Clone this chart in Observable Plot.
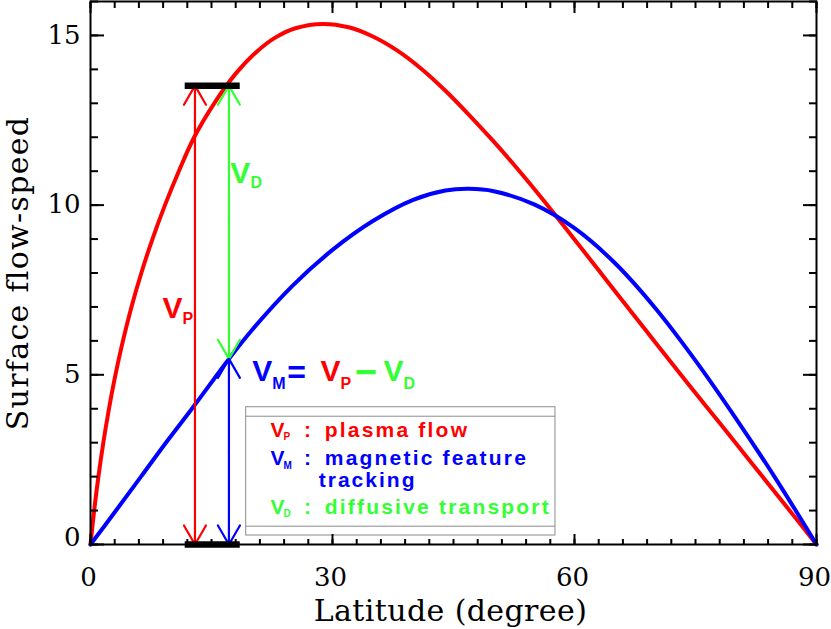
<!DOCTYPE html>
<html>
<head>
<meta charset="utf-8">
<script src="https://cdn.jsdelivr.net/npm/d3@7"></script>
<script src="https://cdn.jsdelivr.net/npm/@observablehq/plot@0.6"></script>
<style>
  body { margin: 0; background: #fff; }
  #chart svg { display: block; }
</style>
</head>
<body>
<div id="chart"></div>
<script>
// ---- data ----
// V_P : plasma flow (red)
const latP = [0, 0.455, 0.98, 1.59, 2.29, 3.09, 4.02, 5.08, 6.3, 7.68, 9.23, 10.95, 12.85, 15.5, 18, 20.5, 23, 25.5, 28.8, 32, 35, 38, 41, 44, 47, 50, 53, 56, 60, 63, 66, 70, 74, 78, 82, 86, 90];
const vP   = [0, 1, 2, 3, 4, 5, 6, 7, 8, 9, 10, 11, 12, 13.06, 13.875, 14.5, 14.95, 15.22, 15.34, 15.24, 14.97, 14.56, 14.02, 13.37, 12.64, 11.87, 11.05, 10.19, 8.99, 8.08, 7.17, 5.96, 4.76, 3.58, 2.39, 1.2, 0];
// V_M : magnetic feature tracking (blue)
const latM = [0, 3.16, 6.26, 9.35, 12.57, 15.7, 17.16, 20, 25, 30, 35, 40, 44, 46.9, 50, 55, 60, 65, 70, 75, 80, 85, 90];
const vM   = [0, 1, 2, 3, 4, 5, 5.47, 6.315, 7.615, 8.68, 9.53, 10.155, 10.43, 10.48, 10.41, 10.02, 9.32, 8.295, 6.97, 5.42, 3.72, 1.92, 0];
// annotation arrows: V_P, V_D, V_M
const arrowNames = ["VP", "VD", "VM"];
const arrowLat   = [12.95, 17.16, 17.16];
const arrowLow   = [0, 5.47, 0];
const arrowHigh  = [13.52, 13.52, 5.47];
// black bars at the ends of V_P
const barLevels = [0, 13.52];
const barLat    = [11.74, 18.56];
// ticks
const xMajor = [0, 30, 60, 90];
const xMinor = d3.range(0, 91, 3);
const yMajor = [0, 5, 10, 15];
const yMinor = d3.range(0, 17, 1);
// legend entries
const legendKeys  = ["P", "M", "D"];
const legendWords = ["plasma flow", "magnetic feature", "diffusive transport"];
const xTitle = "Latitude (degree)";
const yTitle = "Surface flow-speed";

const RED = "#ff0000", BLUE = "#0000ff", GREEN = "#33ff33";
const P = latP.map((lat, i) => ({lat, v: vP[i]}));
const M = latM.map((lat, i) => ({lat, v: vM[i]}));
const arrows = arrowNames.map((name, i) => ({name, x: arrowLat[i], lo: arrowLow[i], hi: arrowHigh[i], mid: (arrowLow[i] + arrowHigh[i]) / 2}));
const arrowColor = {VP: RED, VD: GREEN, VM: BLUE};

function doubleArrow(name) {
  const d = arrows.filter(a => a.name === name);
  const o = {x: "x", stroke: arrowColor[name], strokeWidth: 2.2, headLength: 15, headAngle: 60};
  return [
    Plot.arrow(d, {...o, y1: "mid", y2: "hi"}),
    Plot.arrow(d, {...o, y1: "mid", y2: "lo"})
  ];
}

const SANS = "Liberation Sans";
function part(t, x, y, color, size, dx, dy) {
  return Plot.text([t], {x, y, text: d => d, fill: color, fontSize: size, fontWeight: "bold", fontFamily: SANS,
    textAnchor: "start", lineAnchor: "bottom", dx, dy});
}

// legend rows (baselines in data units)
const lgX = 22.31;
const lgY = [3.162, 2.328, 0.905];
const lgColor = [RED, BLUE, GREEN];

const marks = [
  // legend box
  Plot.rect([0], {x1: 19.3, x2: 57.64, y1: 0.265, y2: 4.045, stroke: "#8c8c8c", fill: "none", strokeWidth: 1}),
  Plot.ruleY([0.54, 3.78], {x1: 19.3, x2: 57.64, stroke: "#8c8c8c", strokeWidth: 1}),
  // curves
  Plot.line(P, {x: "lat", y: "v", stroke: RED, strokeWidth: 4, curve: "catmull-rom"}),
  Plot.line(M, {x: "lat", y: "v", stroke: BLUE, strokeWidth: 4, curve: "catmull-rom"}),
  // arrows
  ...doubleArrow("VP"),
  ...doubleArrow("VD"),
  ...doubleArrow("VM"),
  // bars
  Plot.ruleY(barLevels, {y: d => d, x1: barLat[0], x2: barLat[1], stroke: "black", strokeWidth: 6.5}),
  // V_P label
  part("V", 8.92, 6.66, RED, 30, 0, 0),
  part("P", 8.92, 6.66, RED, 16, 20, 6),
  // V_D label
  part("V", 17.31, 10.64, GREEN, 30, 0, 0),
  part("D", 17.31, 10.64, GREEN, 16, 20.3, 5),
  // formula V_M = V_P - V_D
  part("V", 20.04, 4.83, BLUE, 30, 0, 0),
  part("M", 20.04, 4.83, BLUE, 16, 20, 8),
  part("=", 20.04, 4.83, BLUE, 32, 35, 2),
  part("V", 20.04, 4.83, RED, 30, 68.3, 0),
  part("P", 20.04, 4.83, RED, 16, 88.3, 8),
  part("\u2212", 20.04, 4.83, GREEN, 38, 102.5, 4),
  part("V", 20.04, 4.83, GREEN, 30, 131.3, 0),
  part("D", 20.04, 4.83, GREEN, 16, 151.3, 8),
];

// legend text
legendKeys.forEach((k, i) => {
  marks.push(part("V", lgX, lgY[i], lgColor[i], 21, 0, 0));
  marks.push(part(k, lgX, lgY[i], lgColor[i], 10, 13, 3.3));
  marks.push(part(":", lgX, lgY[i], lgColor[i], 21, 33.5, 0));
  marks.push(part(legendWords[i], lgX, lgY[i], lgColor[i], 21, 54.3, 0));
});
marks.push(part("tracking", lgX, 1.689, BLUE, 21, 48.3, 0));

// axes: inward ticks on all four sides
const tk = {tickFormat: () => "", label: null, strokeWidth: 2};
marks.push(
  Plot.axisX({...tk, anchor: "bottom", ticks: xMinor, tickSize: -5}),
  Plot.axisX({...tk, anchor: "bottom", ticks: xMajor, tickSize: -10}),
  Plot.axisX({...tk, anchor: "top", ticks: xMinor, tickSize: -6}),
  Plot.axisX({...tk, anchor: "top", ticks: xMajor, tickSize: -11}),
  Plot.axisY({...tk, anchor: "left", ticks: yMinor, tickSize: -8}),
  Plot.axisY({...tk, anchor: "left", ticks: yMajor, tickSize: -14}),
  Plot.axisY({...tk, anchor: "right", ticks: yMinor, tickSize: -8}),
  Plot.axisY({...tk, anchor: "right", ticks: yMajor, tickSize: -14}),
  Plot.axisX({anchor: "bottom", ticks: xMajor, tickSize: 0, tickPadding: 23, dx: -2, label: null, fontSize: 26, fontFamily: "DejaVu Serif", tickFormat: d => String(d)}),
  Plot.axisY({anchor: "left", ticks: yMajor.filter(v => v > 0), tickSize: 0, tickPadding: 10, label: null, fontSize: 26, fontFamily: "DejaVu Serif", tickFormat: d => String(d)}),
  Plot.axisY({anchor: "left", ticks: [yMajor[0]], tickSize: 0, tickPadding: 10, label: null, fontSize: 26, fontFamily: "DejaVu Serif", dy: -7, tickFormat: d => String(d)}),
  Plot.text([xTitle], {frameAnchor: "bottom", text: d => d, dy: 76, dx: -3, textAnchor: "middle", lineAnchor: "bottom", fontSize: 30, fontFamily: "DejaVu Serif", fill: "black"}),
  Plot.text([yTitle], {frameAnchor: "left", text: d => d, dx: -63, rotate: -90, textAnchor: "middle", lineAnchor: "bottom", fontSize: 30, fontFamily: "DejaVu Serif", fill: "black"}),
  Plot.frame({stroke: "black", strokeWidth: 2})
);

const chart = Plot.plot({
  width: 831,
  height: 629,
  marginLeft: 90,
  marginRight: 15,
  marginTop: 1,
  marginBottom: 85,
  x: {domain: [0, 90]},
  y: {domain: [0, 16]},
  style: {background: "white", color: "black", fontFamily: "DejaVu Serif"},
  marks
});

// wide letter spacing as in the reference's vector font
const spacing = new Map([...legendWords.map(w => [w, "2.2px"]), ["tracking", "2px"], [xTitle, "0.4px"], [yTitle, "1.3px"]]);
d3.select(chart).selectAll("text").each(function() {
  const s = spacing.get(this.textContent);
  if (s) this.setAttribute("letter-spacing", s);
});
document.getElementById("chart").appendChild(chart);
</script>
</body>
</html>
